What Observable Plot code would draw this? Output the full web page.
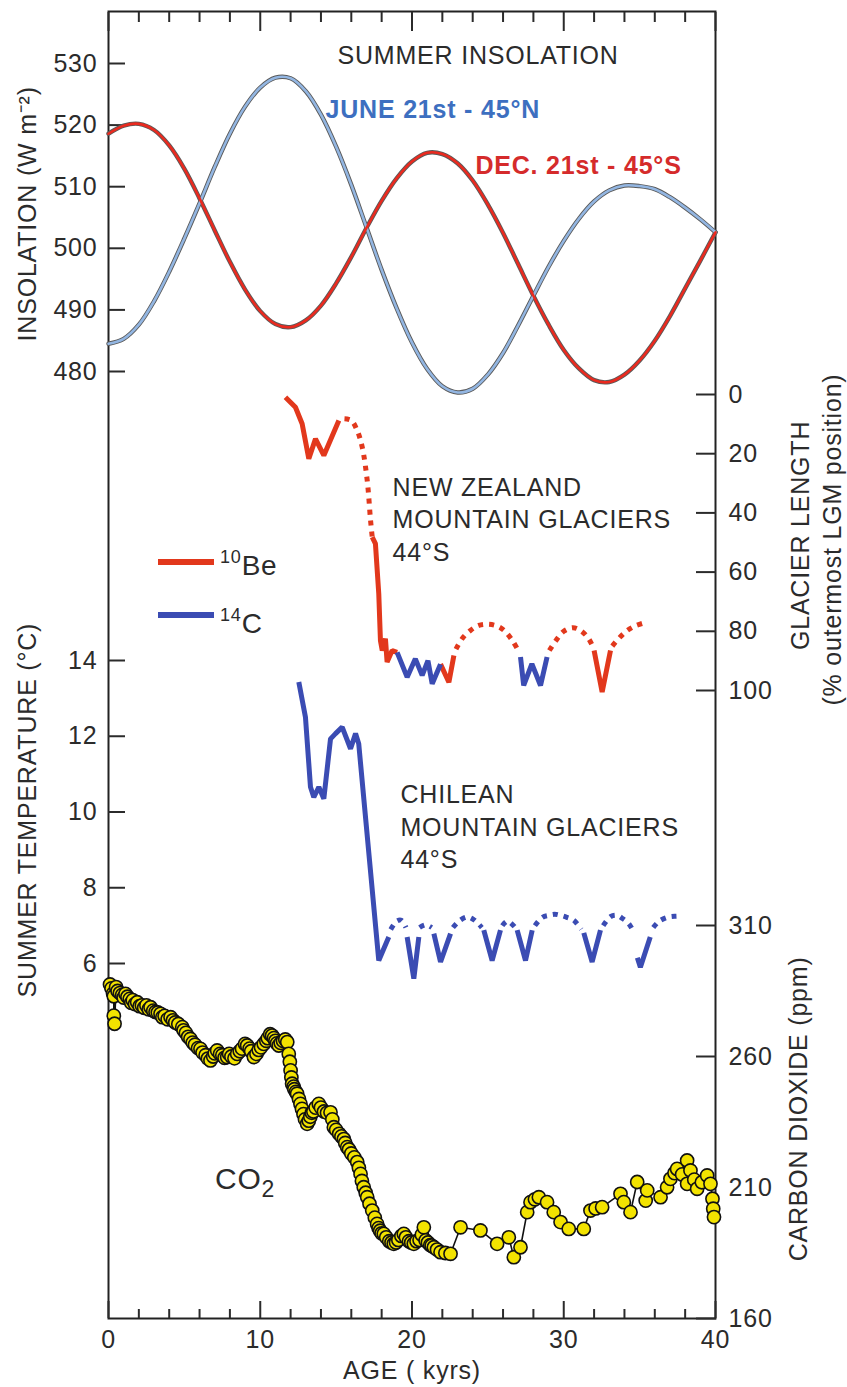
<!DOCTYPE html>
<html>
<head>
<meta charset="utf-8">
<script src="https://cdn.jsdelivr.net/npm/d3@7"></script>
<script src="https://cdn.jsdelivr.net/npm/@observablehq/plot@0.6"></script>
<style>
  html, body { margin: 0; padding: 0; background: #fff; }
  #chart { position: relative; width: 847px; height: 1387px; }
  #chart svg { position: absolute; left: 0; top: 0; }
</style>
</head>
<body>
<div id="chart"></div>
<script>
// ---------- DATA ----------
// Summer insolation (W m-2) by age (kyr)
const insolAges = [0,1,2,3,4,5,6,7,8,9,10,11,12,13,14,15,16,17,18,19,20,21,22,23,24,25,26,27,28,29,30,31,32,33,34,35,36,37,38,39,40];
const insolJune45N = [484.5,485.3,487.6,491.4,496.2,501.6,507.3,513.2,518.6,523.0,526.1,527.7,527.6,525.5,521.7,516.5,510.3,503.4,496.5,490.2,484.7,480.4,477.6,476.6,477.2,479.5,483.0,487.5,492.3,497.0,501.2,504.8,507.6,509.4,510.2,510.1,509.6,508.3,506.6,504.7,502.6];
const insolDec45S  = [518.6,519.9,520.2,519.2,516.7,512.9,508.1,502.9,497.8,493.3,489.8,487.7,487.2,488.3,490.7,494.3,498.6,503.3,507.7,511.4,514.1,515.5,515.3,513.8,511.0,507.1,502.5,497.4,492.3,487.6,483.5,480.5,478.6,478.3,479.5,481.8,485.0,489.0,493.5,498.0,502.6];
const insolTicks = [480,490,500,510,520,530];

// New Zealand glacier length (% of outermost LGM position): [segment, age kyr, length]
const nzBe10Solid = [
  [1,11.66,0.9],[1,12.32,4.3],[1,12.76,9.9],[1,13.2,21.7],[1,13.64,15.0],[1,14.19,20.6],[1,15.18,8.8],
  [2,17.38,48.2],[2,17.59,50.4],[2,17.81,67.3],[2,17.92,83.1],[2,18.04,86.5],[2,18.25,82.5],[2,18.36,90.4],[2,18.69,86.5],[2,19.02,87.1],
  [3,21.88,91.1],[3,22.43,97.2],[3,22.76,88.2],
  [4,32.0,86.5],[4,32.53,100.5],[4,33.08,86.5]
];
const nzBe10Dotted = [
  [1,15.55,8.2],[1,16.0,8.8],[1,16.39,12.2],[1,16.72,17.8],[1,17.05,29.1],[1,17.27,42.6],[1,17.38,48.2],
  [2,22.9,86.0],[2,23.3,82.5],[2,23.85,79.7],[2,24.4,78.0],[2,25.0,77.6],[2,25.6,78.2],[2,26.05,79.6],[2,26.6,83.0],[2,27.0,86.5],
  [3,29.05,86.5],[3,29.5,83.0],[3,30.0,80.0],[3,30.6,78.8],[3,31.1,79.7],[3,31.6,82.2],[3,31.95,85.5],
  [4,33.2,85.0],[4,33.7,82.0],[4,34.2,79.7],[4,34.7,78.2],[4,35.27,77.2]
];
const nzC14Solid = [
  [1,19.02,87.1],[1,19.68,95.5],[1,20.22,89.3],[1,20.67,94.9],[1,21.05,89.9],[1,21.33,97.7],[1,21.88,91.1],
  [2,27.15,88.7],[2,27.36,98.3],[2,27.9,91.0],[2,28.47,98.3],[2,28.9,88.7]
];
const glacierTicks = [0,20,40,60,80,100];

// Chilean glaciers, summer temperature (°C): [segment, age kyr, temperature]
const chileSolid = [
  [1,12.54,13.43],[1,12.98,12.5],[1,13.31,10.66],[1,13.53,10.39],[1,13.86,10.66],[1,14.19,10.35],[1,14.63,11.93],[1,14.96,12.07],[1,15.4,12.24],[1,15.95,11.67],[1,16.28,12.07],[1,16.49,11.8],[1,17.81,6.08],[1,18.47,6.7],
  [2,19.68,6.7],[2,20.12,5.6],[2,20.45,6.7],
  [3,21.44,6.79],[3,21.88,6.04],[3,22.54,6.79],
  [4,24.73,6.88],[4,25.28,6.08],[4,25.83,6.88],
  [5,26.93,6.88],[5,27.48,6.08],[5,27.92,6.88],
  [6,31.32,6.81],[6,31.87,6.04],[6,32.42,6.88],
  [7,34.85,6.15],[7,35.05,5.9],[7,35.7,6.7]
];
const chileDotted = [
  [1,18.6,6.9],[1,19.0,7.12],[1,19.3,7.14],[1,19.6,6.95],
  [2,20.5,6.95],[2,20.9,7.02],[2,21.3,6.95],
  [3,22.7,6.95],[3,23.1,7.12],[3,23.64,7.23],[3,24.1,7.15],[3,24.6,6.95],
  [4,25.95,7.0],[4,26.3,7.12],[4,26.8,6.95],
  [5,28.1,7.0],[5,28.6,7.22],[5,29.0,7.27],[5,29.4,7.3],[5,29.79,7.27],[5,30.2,7.22],[5,30.66,7.14],[5,31.15,6.9],
  [6,32.6,7.0],[6,33.1,7.24],[6,33.52,7.27],[6,33.9,7.18],[6,34.29,7.05],[6,34.65,6.8],
  [7,35.9,6.95],[7,36.3,7.12],[7,36.92,7.23],[7,37.4,7.25],[7,37.8,7.25]
];
const tempTicks = [6,8,10,12,14];

// CO2 (ppm) [age kyr, ppm]
const co2Points = [
  [0.1,287.5],[0.2,286],[0.3,284],[0.35,283],[0.35,275.6],[0.4,272.5],[0.5,286.5],[0.6,285],[0.75,284.2],[0.9,283.5],
  [1.0,282.5],[1.12,283.9],[1.25,282.8],[1.4,282],[1.5,280.5],[1.6,281.5],[1.75,280],[1.89,280.7],[2.05,279.2],[2.2,279.5],
  [2.35,278.6],[2.5,279.5],[2.65,278],[2.77,278.8],[2.95,277.5],[3.1,277],[3.25,276.8],[3.43,276.3],[3.55,275],[3.7,275.5],
  [3.9,274.2],[4.09,275.0],[4.25,273.8],[4.4,273],[4.6,272.4],[4.86,271.2],[4.95,270],[5.1,269],[5.25,267.5],[5.4,266.7],
  [5.55,265.3],[5.7,264.5],[5.9,263.2],[6.06,262.9],[6.2,261.5],[6.4,260.5],[6.55,259.2],[6.72,258.5],[6.9,260],[7.0,261.2],
  [7.16,262.3],[7.35,261],[7.5,260.5],[7.65,259.5],[7.82,259.8],[7.95,261],[8.1,260],[8.3,259.3],[8.48,261.0],[8.65,262],
  [8.8,263],[9.0,264.8],[9.14,264.2],[9.3,263],[9.4,262],[9.58,259.8],[9.75,261],[9.9,262.5],[10.05,263.5],[10.23,264.8],
  [10.4,266],[10.5,267],[10.65,268.5],[10.78,268.0],[10.9,267],[11.0,266],[11.1,265],[11.22,264.2],[11.35,265.2],[11.5,266],
  [11.65,266.5],[11.78,265.5],[11.88,261.0],[11.95,258],[12.0,254.7],[12.05,252],[12.1,249.6],[12.2,248.5],[12.25,247.5],[12.35,246.5],
  [12.43,245.8],[12.55,243.8],[12.65,241.9],[12.75,240],[12.85,238],[12.95,236],[13.09,234.3],[13.2,235.5],[13.3,237],[13.4,238.5],
  [13.5,239],[13.65,240.5],[13.86,241.9],[14.0,240.5],[14.2,239],[14.4,238.5],[14.63,238.7],[14.75,236],[14.85,233.0],[15.0,232],
  [15.2,230.5],[15.35,229.5],[15.51,228.5],[15.6,227],[15.73,225.4],[15.85,224.5],[16.0,223],[16.2,221.5],[16.39,219.7],[16.5,217.5],
  [16.61,215.2],[16.7,212.5],[16.82,210.1],[16.95,208],[17.05,206.3],[17.2,203.8],[17.38,201.2],[17.55,198.5],[17.7,196.1],[17.8,194.5],
  [17.9,193.5],[18.0,192.5],[18.14,192.3],[18.3,191],[18.5,189.5],[18.65,189],[18.8,188.5],[18.95,189],[19.1,190],[19.3,191.5],
  [19.46,192.3],[19.6,191],[19.8,189.5],[19.95,189],[20.12,188.5],[20.3,189.5],[20.5,190],[20.65,192],[20.78,194.8],[20.9,189.8],
  [21.05,189],[21.2,188],[21.3,187.8],[21.44,187.2],[21.65,186.3],[21.88,185.3],[22.2,185],[22.54,184.7],[23.2,194.8],[24.51,193.6],
  [25.61,188.5],[26.38,191.0],[26.71,183.4],[27.15,187.2],[27.59,200.6],[27.81,204.4],[28.1,205.5],[28.36,206.3],[28.9,204.4],[29.34,200.6],
  [29.79,196.8],[30.33,194.2],[31.32,194.2],[31.76,201.2],[32.1,202.0],[32.53,202.5],[33.74,207.6],[33.96,204.4],[34.4,200.6],[34.84,212.1],
  [35.4,205.0],[35.5,208.9],[36.38,206.3],[36.81,210.1],[37.03,213.3],[37.3,215.5],[37.47,217.1],[37.8,215],[38.13,220.3],[38.13,211.4],
  [38.35,216.5],[38.6,213],[38.79,209.5],[39.1,212],[39.45,214.6],[39.67,211.4],[39.8,205.7],[39.85,201.9],[39.9,198.7]
];
const co2Ticks = [160,210,260,310];

const ageMajor = [0,10,20,30,40];
const ageMinor = [2,4,6,8,12,14,16,18,22,24,26,28,32,34,36,38];

// ---------- TABLES ----------
const insol = insolAges.flatMap((age, i) => [
  {age, value: insolJune45N[i], series: "June 21st - 45°N"},
  {age, value: insolDec45S[i], series: "Dec. 21st - 45°S"}
]);
const toRows = (arr, key) => arr.map(([seg, age, v]) => ({seg, age, [key]: v}));
const nzBeS = toRows(nzBe10Solid, "len"), nzBeD = toRows(nzBe10Dotted, "len"), nzCS = toRows(nzC14Solid, "len");
const chS = toRows(chileSolid, "temp"), chD = toRows(chileDotted, "temp");
const co2 = co2Points.map(([age, ppm]) => ({age, ppm}));

// ---------- STYLE ----------
const W = 847, H = 1387;
const FONT = "'Liberation Sans', Arial, Helvetica, sans-serif";
const INK = "#2b2b2b";
const RED = "#e2381c", BLUE = "#3b4cb3";
const base = {width: W, height: H, marginLeft: 108, marginRight: 132, marginTop: 11, marginBottom: 69};
const style = {background: "transparent", fontFamily: FONT, fontSize: "25px", color: INK, letterSpacing: "0.8px", overflow: "visible"};
const vlabel = {textAnchor: "middle", lineAnchor: "middle", rotate: -90, fontSize: 25, fill: INK};

// ---------- LAYER: CO2 + frame + age axis ----------
const co2Layer = Plot.plot({
  ...base, style,
  x: {domain: [0, 40]},
  y: {domain: [160, 310], range: [1318, 925]},
  marks: [
    Plot.frame({stroke: "#222", strokeWidth: 2}),
    Plot.axisX({anchor: "bottom", ticks: ageMinor, tickSize: 9, dy: -9, fill: "none", strokeWidth: 2, label: null}),
    Plot.axisX({anchor: "bottom", ticks: ageMajor, tickSize: 17, dy: -17, fill: "none", strokeWidth: 2, label: null}),
    Plot.axisX({anchor: "top", ticks: ageMinor, tickSize: 10, dy: 10, fill: "none", strokeWidth: 2, label: null}),
    Plot.axisX({anchor: "top", ticks: ageMajor, tickSize: 19, dy: 19, fill: "none", strokeWidth: 2, label: null}),
    Plot.axisX({anchor: "bottom", ticks: ageMajor, tickSize: 0, tickPadding: 12, stroke: "none", label: null, fontSize: 25, tickFormat: d => String(d)}),
    Plot.axisY({anchor: "right", ticks: co2Ticks, tickSize: 20, dx: -20, fill: "none", strokeWidth: 2, label: null}),
    Plot.axisY({anchor: "right", ticks: co2Ticks, tickSize: 0, tickPadding: 13, stroke: "none", label: null, fontSize: 25}),
    Plot.line(co2, {x: "age", y: "ppm", stroke: "#111", strokeWidth: 1.6}),
    Plot.dot(co2, {x: "age", y: "ppm", r: 6.6, fill: "#f3e300", stroke: "#111", strokeWidth: 1.6}),
    Plot.text([{t: "CARBON DIOXIDE (ppm)", v: 240}], {text: "t", y: "v", frameAnchor: "right", dx: 83, ...vlabel}),
    Plot.text(["AGE ( kyrs)"], {frameAnchor: "bottom", dy: 60, lineAnchor: "bottom", fontSize: 25, fill: INK})
  ]
});

// ---------- LAYER: Chilean glaciers / temperature ----------
const tempLayer = Plot.plot({
  ...base, style,
  x: {domain: [0, 40], axis: null},
  y: {domain: [6, 14], range: [963, 660]},
  marks: [
    Plot.axisY({anchor: "left", ticks: tempTicks, tickSize: 17, dx: 17, fill: "none", strokeWidth: 2, label: null}),
    Plot.axisY({anchor: "left", ticks: tempTicks, tickSize: 0, tickPadding: 11, stroke: "none", label: null, fontSize: 25}),
    Plot.text([{t: "SUMMER TEMPERATURE (°C)", v: 10.05}], {text: "t", y: "v", frameAnchor: "left", dx: -81, ...vlabel}),
    Plot.line(chD, {x: "age", y: "temp", z: "seg", stroke: BLUE, strokeWidth: 5, strokeDasharray: "5,6", strokeLinecap: "butt", curve: "catmull-rom"}),
    Plot.line(chS, {x: "age", y: "temp", z: "seg", stroke: BLUE, strokeWidth: 5, strokeLinejoin: "miter", strokeLinecap: "butt"}),
    Plot.text([{t: "CHILEAN\nMOUNTAIN GLACIERS\n44°S", a: 19.24, v: 8.51}], {text: "t", x: "a", y: "v", textAnchor: "start", lineAnchor: "bottom", lineHeight: 1.3, fontSize: 25, fill: INK})
  ]
});

// ---------- LAYER: New Zealand glaciers / length ----------
const glacierLayer = Plot.plot({
  ...base, style,
  x: {domain: [0, 40], axis: null},
  y: {domain: [0, 100], range: [394, 690]},
  marks: [
    Plot.axisY({anchor: "right", ticks: glacierTicks, tickSize: 20, dx: -20, fill: "none", strokeWidth: 2, label: null}),
    Plot.axisY({anchor: "right", ticks: glacierTicks, tickSize: 0, tickPadding: 13, stroke: "none", label: null, fontSize: 25}),
    Plot.text([{t: "GLACIER LENGTH", v: 47.6}], {text: "t", y: "v", frameAnchor: "right", dx: 85, ...vlabel}),
    Plot.text([{t: "(% outermost LGM position)", v: 49}], {text: "t", y: "v", frameAnchor: "right", dx: 117, ...vlabel}),
    Plot.line(nzBeD, {x: "age", y: "len", z: "seg", stroke: RED, strokeWidth: 5, strokeDasharray: "5,6", strokeLinecap: "butt", curve: "catmull-rom"}),
    Plot.line(nzBeS, {x: "age", y: "len", z: "seg", stroke: RED, strokeWidth: 5, strokeLinejoin: "miter", strokeLinecap: "butt"}),
    Plot.line(nzCS, {x: "age", y: "len", z: "seg", stroke: BLUE, strokeWidth: 5, strokeLinejoin: "miter", strokeLinecap: "butt"}),
    Plot.text([{t: "NEW ZEALAND\nMOUNTAIN GLACIERS\n44°S", a: 18.72, v: 56.1}], {text: "t", x: "a", y: "v", textAnchor: "start", lineAnchor: "bottom", lineHeight: 1.3, fontSize: 25, fill: INK})
  ]
});

// ---------- LAYER: insolation ----------
const insolLayer = Plot.plot({
  ...base, style,
  x: {domain: [0, 40], axis: null},
  y: {domain: [480, 530], range: [371, 63]},
  marks: [
    Plot.axisY({anchor: "left", ticks: insolTicks, tickSize: 17, dx: 17, fill: "none", strokeWidth: 2, label: null}),
    Plot.axisY({anchor: "left", ticks: insolTicks, tickSize: 0, tickPadding: 11, stroke: "none", label: null, fontSize: 25}),
    Plot.text([{t: "INSOLATION (W m⁻²)", v: 505.6}], {text: "t", y: "v", frameAnchor: "left", dx: -81, ...vlabel}),
    Plot.line(insol, {x: "age", y: "value", z: "series", stroke: "#5a5a5a", strokeWidth: 4.4, curve: "catmull-rom"}),
    Plot.line(insol.filter(d => d.series.startsWith("June")), {x: "age", y: "value", stroke: "#93b6e2", strokeWidth: 2.6, curve: "catmull-rom"}),
    Plot.line(insol.filter(d => d.series.startsWith("Dec")), {x: "age", y: "value", stroke: "#ea2a1f", strokeWidth: 2.6, curve: "catmull-rom"}),
    Plot.text([{t: "SUMMER INSOLATION", a: 15.09, v: 530}], {text: "t", x: "a", y: "v", textAnchor: "start", lineAnchor: "bottom", fontSize: 25, fill: INK}),
    Plot.text([{t: "JUNE 21st - 45°N", a: 14.3, v: 521.2}], {text: "t", x: "a", y: "v", textAnchor: "start", lineAnchor: "bottom", fontSize: 25, fontWeight: "bold", fill: "#3d6fc0"}),
    Plot.text([{t: "DEC. 21st - 45°S", a: 24.18, v: 512.1}], {text: "t", x: "a", y: "v", textAnchor: "start", lineAnchor: "bottom", fontSize: 25, fontWeight: "bold", fill: "#d52b2b"})
  ]
});

const chart = document.getElementById("chart");
[co2Layer, tempLayer, glacierLayer, insolLayer].forEach(svg => chart.appendChild(svg));

// ---------- legend and CO2 label (annotation overlay) ----------
const legendItems = [
  {iso: "10", el: "Be", color: RED, lineY: 562, baseY: 575},
  {iso: "14", el: "C", color: BLUE, lineY: 615, baseY: 633}
];
const ov = d3.create("svg").attr("width", W).attr("height", H)
  .style("font-family", FONT).style("letter-spacing", "0.8px").style("overflow", "visible");
for (const it of legendItems) {
  ov.append("line").attr("x1", 158).attr("x2", 214).attr("y1", it.lineY).attr("y2", it.lineY)
    .attr("stroke", it.color).attr("stroke-width", 6);
  const t = ov.append("text").attr("x", 220).attr("y", it.baseY).attr("font-size", 28).attr("fill", INK);
  t.append("tspan").attr("font-size", 18).attr("dy", -12).text(it.iso);
  t.append("tspan").attr("dy", 12).text(it.el);
}
const co2Label = ov.append("text").attr("x", 215).attr("y", 1189).attr("font-size", 30).attr("fill", INK);
co2Label.append("tspan").text("CO");
co2Label.append("tspan").attr("font-size", 23).attr("dy", 8).text("2");
chart.appendChild(ov.node());
</script>
</body>
</html>
